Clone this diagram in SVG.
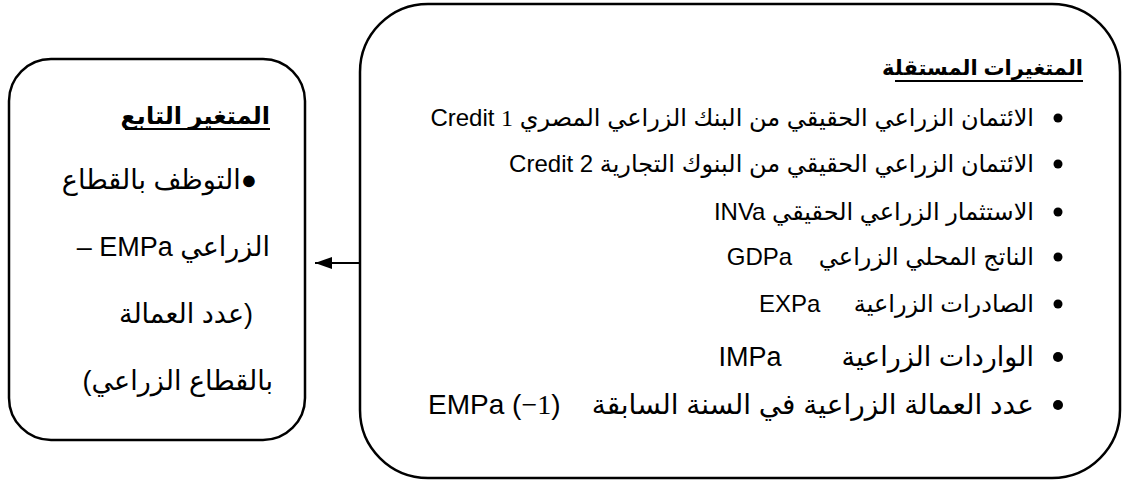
<svg xmlns="http://www.w3.org/2000/svg" width="1125" height="483" viewBox="0 0 1125 483">
<style>
.box{fill:#fff;stroke:#000;stroke-width:2.5}
.t{font-family:"Liberation Sans","DejaVu Sans",sans-serif;fill:#000;direction:rtl;text-anchor:start}
.b{font-weight:bold}
.ul{stroke:#000;stroke-width:1.8}
.serif{font-family:"Liberation Serif","DejaVu Serif",serif}
</style>
<defs>
<marker id="ah" markerWidth="18" markerHeight="12" refX="17" refY="6" orient="auto" markerUnits="userSpaceOnUse"><path d="M0,0 L17,6 L0,12 Z" fill="#000"/></marker>
</defs>
<rect width="1125" height="483" fill="#fff"/>
<g id="independent">
<rect class="box" x="360" y="4" width="760" height="474" rx="68" ry="68"/>
<text class="t b" x="1083" y="75" font-size="21">المتغيرات المستقلة</text>
<line class="ul" x1="895" y1="81" x2="1083" y2="81"/>
<g fill="#000">
<circle cx="1058" cy="118" r="4.5"/>
<circle cx="1058" cy="164" r="4.5"/>
<circle cx="1058" cy="212" r="4.5"/>
<circle cx="1058" cy="257" r="4.5"/>
<circle cx="1058" cy="304" r="4.5"/>
<circle cx="1058" cy="357" r="5"/>
<circle cx="1058" cy="405" r="5"/>
</g>
<text class="t" x="1034" y="126" font-size="24">الائتمان الزراعي الحقيقي من البنك الزراعي المصري &#x202A;Credit <tspan class="serif" font-size="24">1</tspan>&#x202C;</text>
<text class="t" x="1034" y="172" font-size="24">الائتمان الزراعي الحقيقي من البنوك التجارية &#x202A;Credit 2&#x202C;</text>
<text class="t" x="1034" y="220" font-size="24">الاستثمار الزراعي الحقيقي &#x202A;INVa&#x202C;</text>
<text class="t" x="1034" y="265" font-size="24" xml:space="preserve">الناتج المحلي الزراعي    &#x202A;GDPa&#x202C;</text>
<text class="t" x="1034" y="312" font-size="24" xml:space="preserve">الصادرات الزراعية     &#x202A;EXPa&#x202C;</text>
<text class="t" x="1034" y="366" font-size="27" xml:space="preserve">الواردات الزراعية        &#x202A;IMPa&#x202C;</text>
<text class="t" x="1034" y="414" font-size="28" xml:space="preserve">عدد العمالة الزراعية في السنة السابقة    &#x202A;EMPa (<tspan class="serif" font-size="28">−1</tspan>)&#x202C;</text>
</g>
<g id="dependent">
<rect class="box" x="9" y="59" width="296" height="381" rx="42" ry="42"/>
<text class="t b" x="270" y="124" font-size="24">المتغير التابع</text>
<line class="ul" x1="125" y1="129" x2="270" y2="129"/>
<text class="t" x="257" y="189" font-size="27">●التوظف بالقطاع</text>
<text class="t" x="270" y="256" font-size="27">الزراعي EMPa –</text>
<text class="t" x="253" y="323" font-size="27">(عدد العمالة</text>
<text class="t" x="273" y="390" font-size="27">بالقطاع الزراعي)</text>
</g>
<g id="connectors">
<line x1="360" y1="263" x2="315" y2="263" stroke="#000" stroke-width="2" marker-end="url(#ah)"/>
</g>
</svg>
